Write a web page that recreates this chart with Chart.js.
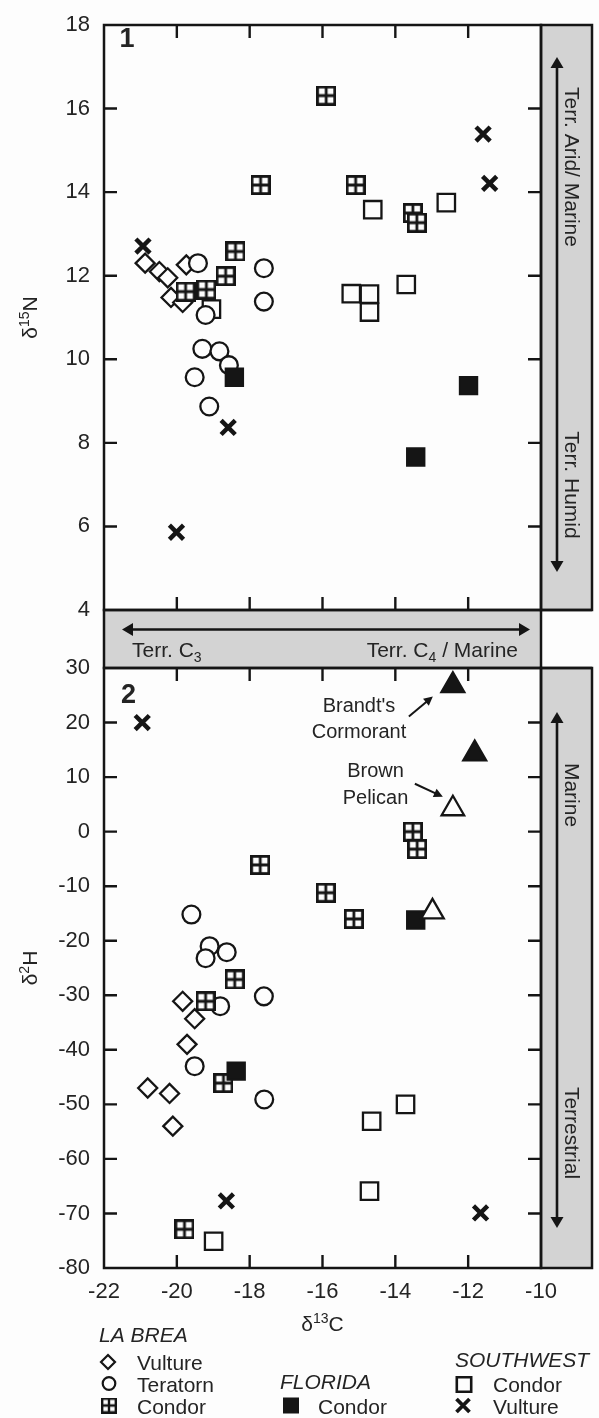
<!DOCTYPE html>
<html>
<head>
<meta charset="utf-8">
<script src="https://cdn.jsdelivr.net/npm/chart.js@4.4.1/dist/chart.umd.min.js"></script>
<style>
    html, body { margin: 0; padding: 0; background: #fdfdfd; }
    #wrap { position: relative; width: 599px; height: 1418px; overflow: hidden; }
    #wrap canvas { position: absolute; left: 0; top: 0; }
</style>
</head>
<body>
<div id="wrap">
    <canvas id="panel1" width="599" height="1418"></canvas>
    <canvas id="panel2" width="599" height="1418"></canvas>
</div>
<script>
// ---- data: delta13C (x) against delta15N (panel 1) and delta2H (panel 2) ----
const xTicks = [-22, -20, -18, -16, -14, -12, -10];
const nTicks = [4, 6, 8, 10, 12, 14, 16, 18];
const hTicks = [-80, -70, -60, -50, -40, -30, -20, -10, 0, 10, 20, 30];

// panel 1
const p1VultureC   = [-20.87, -20.48, -20.25, -20.16, -19.84, -19.74];
const p1VultureN   = [12.3, 12.1, 11.95, 11.48, 11.36, 12.26];
const p1TeratornC  = [-19.42, -19.21, -17.61, -17.61, -19.3, -18.83, -18.57, -19.51, -19.11];
const p1TeratornN  = [12.3, 11.06, 12.18, 11.38, 10.25, 10.19, 9.86, 9.57, 8.87];
const p1LbCondorC  = [-15.9, -17.7, -15.09, -18.39, -18.66, -19.19, -19.76, -13.52, -13.41];
const p1LbCondorN  = [16.31, 14.17, 14.17, 12.58, 11.99, 11.67, 11.62, 13.5, 13.27];
const p1FlCondorC  = [-18.42, -11.99, -13.44];
const p1FlCondorN  = [9.57, 9.37, 7.66];
const p1SwCondorC  = [-19.05, -14.62, -12.6, -13.7, -15.21, -14.71, -14.71];
const p1SwCondorN  = [11.2, 13.58, 13.75, 11.79, 11.57, 11.56, 11.13];
const p1SwVultureC = [-20.93, -11.59, -11.41, -18.59, -20.01];
const p1SwVultureN = [12.71, 15.39, 14.21, 8.37, 5.86];

// panel 2
const p2VultureC   = [-19.84, -19.51, -19.72, -20.8, -20.2, -20.11];
const p2VultureH   = [-31.1, -34.3, -39, -47, -48, -54];
const p2TeratornC  = [-19.6, -19.1, -19.21, -18.63, -17.61, -18.81, -19.51, -17.6];
const p2TeratornH  = [-15.2, -21, -23.2, -22.1, -30.2, -32, -43, -49.1];
const p2LbCondorC  = [-17.71, -15.91, -15.14, -13.52, -13.4, -18.41, -19.21, -18.72, -19.79];
const p2LbCondorH  = [-6.1, -11.2, -16, 0, -3.2, -27.1, -31.1, -46.1, -72.9];
const p2FlCondorC  = [-18.37, -13.44];
const p2FlCondorH  = [-43.9, -16.2];
const p2SwCondorC  = [-13.72, -14.65, -14.71, -18.99];
const p2SwCondorH  = [-50, -53.1, -65.9, -75.1];
const p2SwVultureC = [-20.95, -18.64, -11.66];
const p2SwVultureH = [20, -67.7, -69.9];
const cormorantC   = [-12.42, -11.82];
const cormorantH   = [26.8, 14.3];
const pelicanC     = [-12.42, -12.98];
const pelicanH     = [4.2, -14.7];

// ---- look ----
const FONT = '"Liberation Sans", Arial, Helvetica, sans-serif';
const INK = '#151515';
const TXT = '#242424';
const BAND = '#d3d3d3';
const PAPER = '#fdfdfd';
const TICK = 13;

// page layout in pixels
const PLOT_L = 104, PLOT_R = 541, BAND_R = 592;
const P1_TOP = 12, P1_BOT = 610, P2_TOP = 668, P2_BOT = 1268, PAGE_W = 599, PAGE_H = 1418;

Chart.defaults.font.family = FONT;
Chart.defaults.color = TXT;

function makeGridMark(size, lw) {
    const c = document.createElement('canvas');
    c.width = size;
    c.height = size;
    const g = c.getContext('2d');
    const h = lw / 2;
    g.fillStyle = PAPER;
    g.fillRect(h, h, size - lw, size - lw);
    g.strokeStyle = INK;
    g.lineWidth = lw;
    g.strokeRect(h, h, size - lw, size - lw);
    g.beginPath();
    g.moveTo(size / 2, h); g.lineTo(size / 2, size - h);
    g.moveTo(h, size / 2); g.lineTo(size - h, size / 2);
    g.stroke();
    return c;
}
const gridMark = makeGridMark(20, 2.8);
const gridMarkSmall = makeGridMark(16, 2.4);

function pts(xs, ys) {
    return xs.map((x, i) => ({ x: x, y: ys[i] }));
}

const STYLE = {
    vulture:   { pointStyle: 'rectRot', pointRadius: 9.5, pointBorderWidth: 2.3, pointBackgroundColor: PAPER, pointBorderColor: INK },
    teratorn:  { pointStyle: 'circle', pointRadius: 8.9, pointBorderWidth: 2.3, pointBackgroundColor: PAPER, pointBorderColor: INK },
    lbCondor:  { pointStyle: gridMark, pointRadius: 10 },
    flCondor:  { pointStyle: 'rect', pointRadius: 12.3, pointBorderWidth: 2, pointBackgroundColor: INK, pointBorderColor: INK },
    swCondor:  { pointStyle: 'rect', pointRadius: 12.3, pointBorderWidth: 2.3, pointBackgroundColor: PAPER, pointBorderColor: INK },
    swVulture: { pointStyle: 'crossRot', pointRadius: 10, pointBorderWidth: 4.5, pointBorderColor: INK },
    cormorant: { pointStyle: 'triangle', pointRadius: 13.5, pointBorderWidth: 2, pointBackgroundColor: INK, pointBorderColor: INK },
    pelican:   { pointStyle: 'triangle', pointRadius: 13, pointBorderWidth: 2.3, pointBackgroundColor: PAPER, pointBorderColor: INK }
};

function ds(label, xs, ys, style) {
    return Object.assign({ label: label, data: pts(xs, ys), clip: false }, STYLE[style]);
}

// ---- drawing helpers ----
function richText(ctx, parts, x, y, align, angle) {
    ctx.save();
    ctx.translate(x, y);
    if (angle) ctx.rotate(angle);
    ctx.textAlign = 'left';
    ctx.textBaseline = 'alphabetic';
    ctx.fillStyle = TXT;
    const fontOf = p => (p[1] === 'n' ? '21px ' : '14px ') + FONT;
    let w = 0;
    parts.forEach(p => { ctx.font = fontOf(p); w += ctx.measureText(p[0]).width; });
    let cx = align === 'center' ? -w / 2 : (align === 'right' ? -w : 0);
    parts.forEach(p => {
        ctx.font = fontOf(p);
        const dy = p[1] === 'sup' ? -8.5 : (p[1] === 'sub' ? 5 : 0);
        ctx.fillText(p[0], cx, dy);
        cx += ctx.measureText(p[0]).width;
    });
    ctx.restore();
}

function text(ctx, str, x, y, font, align, angle) {
    ctx.save();
    ctx.translate(x, y);
    if (angle) ctx.rotate(angle);
    ctx.font = font;
    ctx.fillStyle = TXT;
    ctx.textAlign = align || 'left';
    ctx.textBaseline = 'alphabetic';
    ctx.fillText(str, 0, 0);
    ctx.restore();
}

function arrow(ctx, x1, y1, x2, y2, both, lw, len, half) {
    const ang = Math.atan2(y2 - y1, x2 - x1);
    const c = Math.cos(ang), s = Math.sin(ang);
    const head = (tx, ty, dir) => {
        const bx = tx - dir * len * c, by = ty - dir * len * s;
        ctx.beginPath();
        ctx.moveTo(tx, ty);
        ctx.lineTo(bx + half * s, by - half * c);
        ctx.lineTo(bx - half * s, by + half * c);
        ctx.closePath();
        ctx.fill();
    };
    ctx.save();
    ctx.strokeStyle = INK;
    ctx.fillStyle = INK;
    ctx.lineWidth = lw;
    ctx.beginPath();
    const sx = both ? x1 + len * 0.7 * c : x1, sy = both ? y1 + len * 0.7 * s : y1;
    ctx.moveTo(sx, sy);
    ctx.lineTo(x2 - len * 0.7 * c, y2 - len * 0.7 * s);
    ctx.stroke();
    head(x2, y2, 1);
    if (both) head(x1, y1, -1);
    ctx.restore();
}

function drawFrame(chart) {
    const { ctx, chartArea: a, scales: { x, y } } = chart;
    ctx.save();
    ctx.strokeStyle = INK;
    ctx.lineWidth = 2.4;
    ctx.beginPath();
    x.ticks.forEach(t => {
        if (t.value <= x.min || t.value >= x.max) return;
        const px = x.getPixelForValue(t.value);
        ctx.moveTo(px, a.top); ctx.lineTo(px, a.top + TICK);
        ctx.moveTo(px, a.bottom); ctx.lineTo(px, a.bottom - TICK);
    });
    y.ticks.forEach(t => {
        if (t.value <= y.min || t.value >= y.max) return;
        const py = y.getPixelForValue(t.value);
        ctx.moveTo(a.left, py); ctx.lineTo(a.left + TICK, py);
        ctx.moveTo(a.right, py); ctx.lineTo(a.right - TICK, py);
    });
    ctx.stroke();
    ctx.lineWidth = 2.5;
    ctx.strokeRect(a.left, a.top, a.right - a.left, a.bottom - a.top);
    ctx.strokeRect(a.right, a.top, BAND_R - a.right, a.bottom - a.top);
    ctx.restore();
}

function sideBand(chart, topLabel, topY, bottomLabel, bottomY, arrowTop, arrowBot) {
    const { ctx, chartArea: a } = chart;
    ctx.save();
    ctx.fillStyle = BAND;
    ctx.fillRect(a.right, a.top, BAND_R - a.right, a.bottom - a.top);
    ctx.restore();
    arrow(ctx, 557, arrowBot, 557, arrowTop, true, 2.6, 11, 6.5);
    text(ctx, topLabel, 565, topY, '21px ' + FONT, 'center', Math.PI / 2);
    text(ctx, bottomLabel, 565, bottomY, '21px ' + FONT, 'center', Math.PI / 2);
}

function legendMark(ctx, kind, x, y) {
    ctx.save();
    ctx.strokeStyle = INK;
    ctx.fillStyle = PAPER;
    ctx.lineWidth = 2.2;
    ctx.beginPath();
    if (kind === 'diamond') {
        ctx.moveTo(x, y - 7); ctx.lineTo(x + 7, y); ctx.lineTo(x, y + 7); ctx.lineTo(x - 7, y);
        ctx.closePath(); ctx.fill(); ctx.stroke();
    } else if (kind === 'circle') {
        ctx.arc(x, y, 6.3, 0, Math.PI * 2); ctx.fill(); ctx.stroke();
    } else if (kind === 'grid') {
        ctx.drawImage(gridMarkSmall, x - 8, y - 8);
    } else if (kind === 'filled') {
        ctx.fillStyle = INK; ctx.fillRect(x - 8, y - 8, 16, 16);
    } else if (kind === 'open') {
        ctx.lineWidth = 2.6; ctx.rect(x - 7.2, y - 7.2, 14.4, 14.4); ctx.fill(); ctx.stroke();
    } else if (kind === 'cross') {
        ctx.lineWidth = 3.8;
        ctx.moveTo(x - 6.5, y - 6.5); ctx.lineTo(x + 6.5, y + 6.5);
        ctx.moveTo(x + 6.5, y - 6.5); ctx.lineTo(x - 6.5, y + 6.5);
        ctx.stroke();
    }
    ctx.restore();
}

// ---- panel plugins ----
const panel1Frame = {
    id: 'panel1Frame',
    beforeDatasetsDraw(chart) {
        const { ctx, chartArea: a } = chart;
        ctx.save();
        ctx.fillStyle = BAND;
        ctx.fillRect(a.left, a.bottom, a.right - a.left, P2_TOP - a.bottom);
        ctx.restore();
        sideBand(chart, 'Terr. Arid/ Marine', 167, 'Terr. Humid', 485, 57, 572);
    },
    afterDatasetsDraw(chart) {
        const { ctx, chartArea: a } = chart;
        drawFrame(chart);
        ctx.save();
        ctx.strokeStyle = INK;
        ctx.lineWidth = 2.5;
        ctx.strokeRect(a.left, a.bottom, a.right - a.left, P2_TOP - a.bottom);
        ctx.beginPath();
        ctx.moveTo(a.right, a.bottom); ctx.lineTo(BAND_R, a.bottom);
        ctx.stroke();
        ctx.restore();
        arrow(ctx, 122, 629.5, 530, 629.5, true, 2.6, 11, 6.5);
        richText(ctx, [['Terr. C', 'n'], ['3', 'sub']], 132, 657, 'left');
        richText(ctx, [['Terr. C', 'n'], ['4', 'sub'], [' / Marine', 'n']], 518, 657, 'right');
        text(ctx, '1', 127, 47, 'bold 27px ' + FONT, 'center');
        richText(ctx, [['\u03b4', 'n'], ['15', 'sup'], ['N', 'n']], 37, (a.top + a.bottom) / 2, 'center', -Math.PI / 2);
    }
};

const panel2Frame = {
    id: 'panel2Frame',
    beforeDatasetsDraw(chart) {
        sideBand(chart, 'Marine', 795, 'Terrestrial', 1133, 712, 1228);
    },
    afterDatasetsDraw(chart) {
        const { ctx, chartArea: a, scales: { x, y } } = chart;
        drawFrame(chart);
        ctx.save();
        ctx.strokeStyle = INK;
        ctx.lineWidth = 2.5;
        ctx.beginPath();
        ctx.moveTo(a.right, a.top); ctx.lineTo(BAND_R, a.top);
        ctx.stroke();
        ctx.restore();
        text(ctx, '2', 128.5, 703, 'bold 27px ' + FONT, 'center');
        richText(ctx, [['\u03b4', 'n'], ['2', 'sup'], ['H', 'n']], 37, (a.top + a.bottom) / 2, 'center', -Math.PI / 2);
        richText(ctx, [['\u03b4', 'n'], ['13', 'sup'], ['C', 'n']], (a.left + a.right) / 2, 1331, 'center');

        // call-outs for the two seabirds
        const cx = x.getPixelForValue(cormorantC[0]), cy = y.getPixelForValue(cormorantH[0]);
        arrow(ctx, cx - 44, cy + 31, cx - 20, cy + 11, false, 2, 9, 4.5);
        text(ctx, "Brandt's", 359, 712, '20px ' + FONT, 'center');
        text(ctx, 'Cormorant', 359, 738, '20px ' + FONT, 'center');
        const px = x.getPixelForValue(pelicanC[0]), py = y.getPixelForValue(pelicanH[0]);
        arrow(ctx, px - 38, py - 25, px - 10, py - 12, false, 2, 9, 4.5);
        text(ctx, 'Brown', 375.5, 777, '20px ' + FONT, 'center');
        text(ctx, 'Pelican', 375.5, 804, '20px ' + FONT, 'center');

        // legend
        const it = 'italic 21px ' + FONT, rg = '21px ' + FONT;
        text(ctx, 'LA BREA', 99, 1342, it);
        legendMark(ctx, 'diamond', 108, 1362); text(ctx, 'Vulture', 137, 1370, rg);
        legendMark(ctx, 'circle', 109, 1383.5); text(ctx, 'Teratorn', 137, 1391.5, rg);
        legendMark(ctx, 'grid', 109, 1405.5); text(ctx, 'Condor', 137, 1413.5, rg);
        text(ctx, 'FLORIDA', 280, 1389, it);
        legendMark(ctx, 'filled', 291, 1405.5); text(ctx, 'Condor', 318, 1413.5, rg);
        text(ctx, 'SOUTHWEST', 455, 1366.5, it);
        legendMark(ctx, 'open', 464, 1384.5); text(ctx, 'Condor', 493, 1391.5, rg);
        legendMark(ctx, 'cross', 463, 1405.5); text(ctx, 'Vulture', 493, 1413.5, rg);
    }
};

function panelOptions(yTicks, padTop, padBottom, xHeight, showX) {
    return {
        responsive: false,
        animation: false,
        events: [],
        devicePixelRatio: 1,
        layout: { padding: { left: 0, right: PAGE_W - PLOT_R, top: padTop, bottom: padBottom } },
        plugins: { legend: { display: false }, tooltip: { enabled: false } },
        scales: {
            x: {
                type: 'linear',
                min: xTicks[0],
                max: xTicks[xTicks.length - 1],
                afterBuildTicks: s => { s.ticks = xTicks.map(v => ({ value: v })); },
                afterFit: s => { s.height = xHeight; },
                ticks: { display: showX, color: TXT, font: { size: 22, lineHeight: 1 }, padding: 13, maxRotation: 0, autoSkip: false },
                grid: { display: false, drawTicks: false },
                border: { display: false }
            },
            y: {
                type: 'linear',
                min: yTicks[0],
                max: yTicks[yTicks.length - 1],
                afterBuildTicks: s => { s.ticks = yTicks.map(v => ({ value: v })); },
                afterFit: s => { s.width = PLOT_L; },
                ticks: { color: TXT, font: { size: 22, lineHeight: 1 }, padding: 14, autoSkip: false },
                grid: { display: false, drawTicks: false },
                border: { display: false }
            }
        }
    };
}

// datasets listed top-most first
new Chart(document.getElementById('panel1'), {
    type: 'scatter',
    data: {
        datasets: [
            ds('Southwest Vulture', p1SwVultureC, p1SwVultureN, 'swVulture'),
            ds('Florida Condor', p1FlCondorC, p1FlCondorN, 'flCondor'),
            ds('La Brea Condor', p1LbCondorC, p1LbCondorN, 'lbCondor'),
            ds('La Brea Teratorn', p1TeratornC, p1TeratornN, 'teratorn'),
            ds('Southwest Condor', p1SwCondorC, p1SwCondorN, 'swCondor'),
            ds('La Brea Vulture', p1VultureC, p1VultureN, 'vulture')
        ]
    },
    options: panelOptions(nTicks, P1_TOP, PAGE_H - P1_BOT, 0, false),
    plugins: [panel1Frame]
});

new Chart(document.getElementById('panel2'), {
    type: 'scatter',
    data: {
        datasets: [
            ds("Brown Pelican", pelicanC, pelicanH, 'pelican'),
            ds("Brandt's Cormorant", cormorantC, cormorantH, 'cormorant'),
            ds('Southwest Vulture', p2SwVultureC, p2SwVultureH, 'swVulture'),
            ds('Florida Condor', p2FlCondorC, p2FlCondorH, 'flCondor'),
            ds('La Brea Condor', p2LbCondorC, p2LbCondorH, 'lbCondor'),
            ds('La Brea Teratorn', p2TeratornC, p2TeratornH, 'teratorn'),
            ds('Southwest Condor', p2SwCondorC, p2SwCondorH, 'swCondor'),
            ds('La Brea Vulture', p2VultureC, p2VultureH, 'vulture')
        ]
    },
    options: panelOptions(hTicks, P2_TOP, 0, PAGE_H - P2_BOT, true),
    plugins: [panel2Frame]
});
</script>
</body>
</html>
